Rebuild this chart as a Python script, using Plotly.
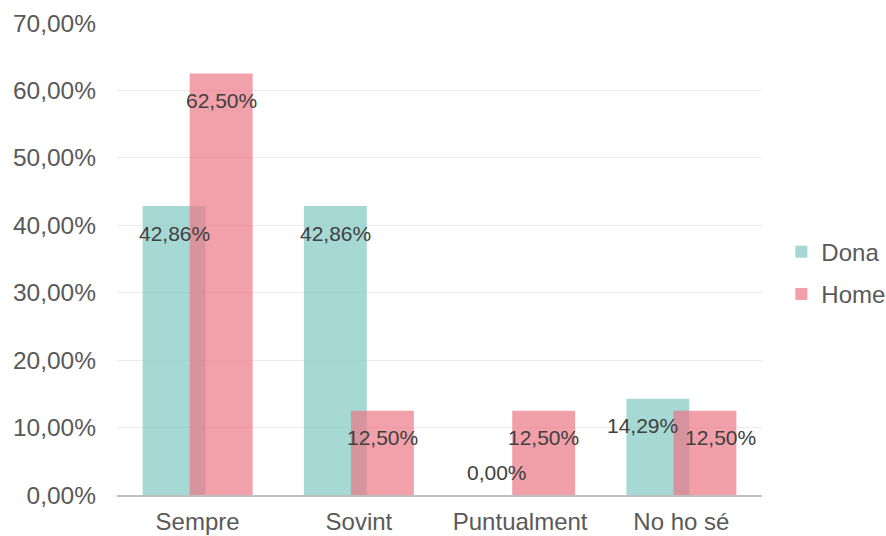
import plotly.graph_objects as go

categories = ["Sempre", "Sovint", "Puntualment", "No ho sé"]
dona = [42.86, 42.86, 0.00, 14.29]
home = [62.50, 12.50, 12.50, 12.50]
series_names = ["Dona", "Home"]
tick_vals = [0, 10, 20, 30, 40, 50, 60, 70]
tick_text = ["0,00%", "10,00%", "20,00%", "30,00%", "40,00%", "50,00%", "60,00%", "70,00%"]

FONT = "Liberation Sans, Arial, sans-serif"
colors = ["rgb(128,199,194)", "rgb(236,119,134)"]
bar_w = 0.39
offsets = [-0.341, -0.049]
CAT_PX = 161.3          # pixel width of one category slot
PX_PER_UNIT = 472 / 70  # pixels per percentage point


def pct(v):
    return f"{v:.2f}".replace(".", ",") + "%"


fig = go.Figure()
for name, vals, col, off in zip(series_names, [dona, home], colors, offsets):
    fig.add_trace(go.Bar(
        x=categories, y=vals, name=name, legendgroup=name,
        marker=dict(color=col, line=dict(width=0)), opacity=0.7,
        width=bar_w, offset=off,
    ))

# value labels placed just inside the top of each bar; when the two labels of
# a category sit at nearly the same height they are pushed apart sideways
annotations = []
for i, (vals, off) in enumerate(zip([dona, home], offsets)):
    for j, (cat, v) in enumerate(zip(categories, vals)):
        other = [dona, home][1 - i][j]
        nudge = 0
        if v > 0 and other > 0 and abs(v - other) * PX_PER_UNIT < 25:
            nudge = -15 if i == 0 else 16
        annotations.append(dict(
            x=cat, y=v, xref="x", yref="y", text=pct(v), showarrow=False,
            xshift=(off + bar_w / 2) * CAT_PX + nudge,
            yshift=-27 if v > 0 else 23,
            font=dict(family=FONT, size=21, color="#404040"),
        ))

fig.update_layout(
    width=886, height=536,
    margin=dict(l=117, r=124, t=23, b=41, autoexpand=False),
    plot_bgcolor="white", paper_bgcolor="white",
    barmode="overlay",
    font=dict(family=FONT, size=24, color="#595959"),
    showlegend=True,
    legend=dict(x=1.03, y=0.47, xanchor="left", yanchor="middle",
                font=dict(family=FONT, size=24, color="#595959"),
                tracegroupgap=8, bgcolor="rgba(0,0,0,0)"),
    annotations=annotations,
    xaxis=dict(showgrid=False, showline=True, linecolor="#bfbfbf", linewidth=2,
               ticks="", ticklabelstandoff=4,
               tickfont=dict(family=FONT, size=24, color="#595959")),
    yaxis=dict(range=[0, 70], tickvals=tick_vals, ticktext=tick_text,
               showgrid=True, gridcolor="#ebebeb", gridwidth=1,
               zeroline=False, showline=False, ticks="", ticklabelstandoff=20,
               tickfont=dict(family=FONT, size=24.5, color="#595959")),
)

fig.write_html("out.html")
